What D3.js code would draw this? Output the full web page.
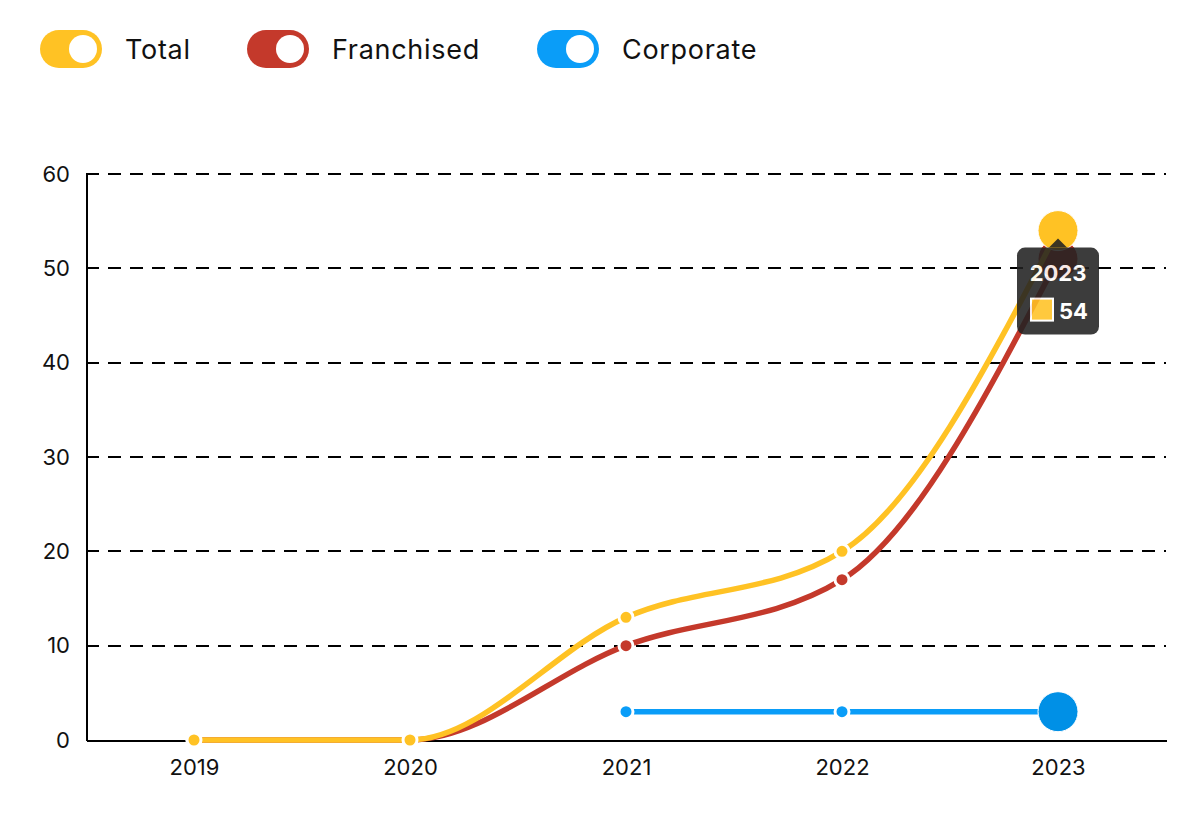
<!DOCTYPE html>
<html lang="en">
  <head>
    <meta charset="UTF-8"/>
    <title>Locations</title>
    <script src="https://d3js.org/d3.v7.min.js"></script>
    <style>
        body {
          margin: 0;
          background: #fff;
          font-family: Inter, "Open Sans", sans-serif;
        }
        .axis text {
          font-family: Inter, "Open Sans", sans-serif;
          font-size: 22px;
          fill: #111;
        }
        .axis path,
        .axis line {
          stroke: #000;
          shape-rendering: crispEdges;
        }
        .grid line {
          stroke: #000;
          stroke-width: 2;
          stroke-dasharray: 13, 9;
          shape-rendering: crispEdges;
        }
    </style>
  </head>
  <body>
    <script>
        // data
        const years = ["2019", "2020", "2021", "2022", "2023"]
        const total = [0, 0, 13, 20, 54]
        const franchised = [0, 0, 10, 17, 51]
        const corporate = [null, null, 3, 3, 3]
        const yTicks = [0, 10, 20, 30, 40, 50, 60]

        const series = [
          {name: "Total", values: total, color: "#FFC224"},
          {name: "Franchised", values: franchised, color: "#C4392B"},
          {name: "Corporate", values: corporate, color: "#0A9DF8"}
        ]

        const outerWidth = 1200,
          outerHeight = 834,
          margin = {top: 174, right: 34, bottom: 94, left: 86},
          width = outerWidth - margin.left - margin.right,    // 1080
          height = outerHeight - margin.top - margin.bottom   // 566

        const svg = d3.select("body").append("svg")
            .attr("width", outerWidth)
            .attr("height", outerHeight)

        // legend with toggle switch icons
        const legendX = [40, 247, 537]
        const legend = svg.append("g").attr("class", "legend")
        series.forEach((s, i) => {
          const item = legend.append("g")
              .attr("transform", `translate(${legendX[i]}, 30)`)
          item.append("rect")
              .attr("width", 62).attr("height", 38)
              .attr("rx", 19)
              .attr("fill", s.color)
          item.append("circle")
              .attr("cx", 43).attr("cy", 19).attr("r", 14)
              .attr("fill", "#fff")
          item.append("text")
              .attr("x", 85).attr("y", 29)
              .attr("font-size", 27)
              .attr("letter-spacing", 0.7)
              .attr("fill", "#111")
              .text(s.name)
        })

        const g = svg.append("g")
            .attr("transform", `translate(${margin.left}, ${margin.top})`)

        const x = d3.scalePoint()
            .domain(years)
            .range([0, width])
            .padding(0.5)

        const y = d3.scaleLinear()
            .domain([0, 60])
            .range([height, 0])

        // dashed gridlines
        g.append("g")
            .attr("class", "grid")
          .selectAll("line")
          .data(yTicks.filter(d => d > 0))
          .join("line")
            .attr("x1", 0).attr("x2", width)
            .attr("y1", d => y(d)).attr("y2", d => y(d))

        const yAxis = d3.axisLeft(y)
            .tickValues(yTicks)
            .tickSize(0)
            .tickPadding(16)
            .tickSizeOuter(0)

        g.append("g")
            .attr("class", "y axis")
            .call(yAxis)
            .call(a => a.select(".domain").attr("stroke-width", 2))

        const xAxis = d3.axisBottom(x)
            .tickSize(0)
            .tickPadding(19)
            .tickSizeOuter(0)

        g.append("g")
            .attr("class", "x axis")
            .attr("transform", `translate(0, ${height})`)
            .call(xAxis)
            .call(a => a.select(".domain").attr("stroke-width", 2))

        const line = d3.line()
            .defined(d => d.v !== null)
            .x(d => x(d.year))
            .y(d => y(d.v))
            .curve(d3.curveMonotoneX)

        const lastYear = years[years.length - 1]

        // draw in reverse so Total sits on top
        series.slice().reverse().forEach(s => {
          const pts = years.map((year, i) => ({year, v: s.values[i]}))
          const sg = g.append("g")
          sg.append("path")
              .datum(pts)
              .attr("fill", "none")
              .attr("stroke", s.color)
              .attr("stroke-width", 5.5)
              .attr("d", line)
          sg.selectAll("circle")
            .data(pts.filter(d => d.v !== null))
            .join("circle")
              .attr("cx", d => x(d.year))
              .attr("cy", d => y(d.v))
              .attr("r", d => d.year === lastYear ? 20 : 7)
              .attr("fill", d => d.year === lastYear && s.name === "Corporate" ? "#0090E6" : s.color)
              .attr("stroke", "#fff")
              .attr("stroke-width", d => d.year === lastYear ? 1 : 3)
        })

        // tooltip for hovered 2023 Total point
        const tx = x(lastYear), ty = y(total[total.length - 1])
        const tip = g.append("g")
            .attr("transform", `translate(${tx}, ${ty + 17})`)
            .attr("opacity", 0.88)
        tip.append("rect")
            .attr("x", -41).attr("y", 0)
            .attr("width", 82).attr("height", 87)
            .attr("rx", 8)
            .attr("fill", "#222")
        tip.append("path")
            .attr("d", "M-9,0 L0,-9 L9,0 Z")
            .attr("fill", "#222")
        tip.append("text")
            .attr("x", 0).attr("y", 33)
            .attr("text-anchor", "middle")
            .attr("font-size", 22)
            .attr("font-weight", 700)
            .attr("fill", "#fff")
            .text(lastYear)
        tip.append("rect")
            .attr("x", -27).attr("y", 51)
            .attr("width", 22).attr("height", 22)
            .attr("fill", series[0].color)
            .attr("stroke", "#fff")
            .attr("stroke-width", 2)
        tip.append("text")
            .attr("x", 1).attr("y", 71)
            .attr("font-size", 22)
            .attr("font-weight", 700)
            .attr("fill", "#fff")
            .text(total[total.length - 1])
    </script>
  </body>
</html>
